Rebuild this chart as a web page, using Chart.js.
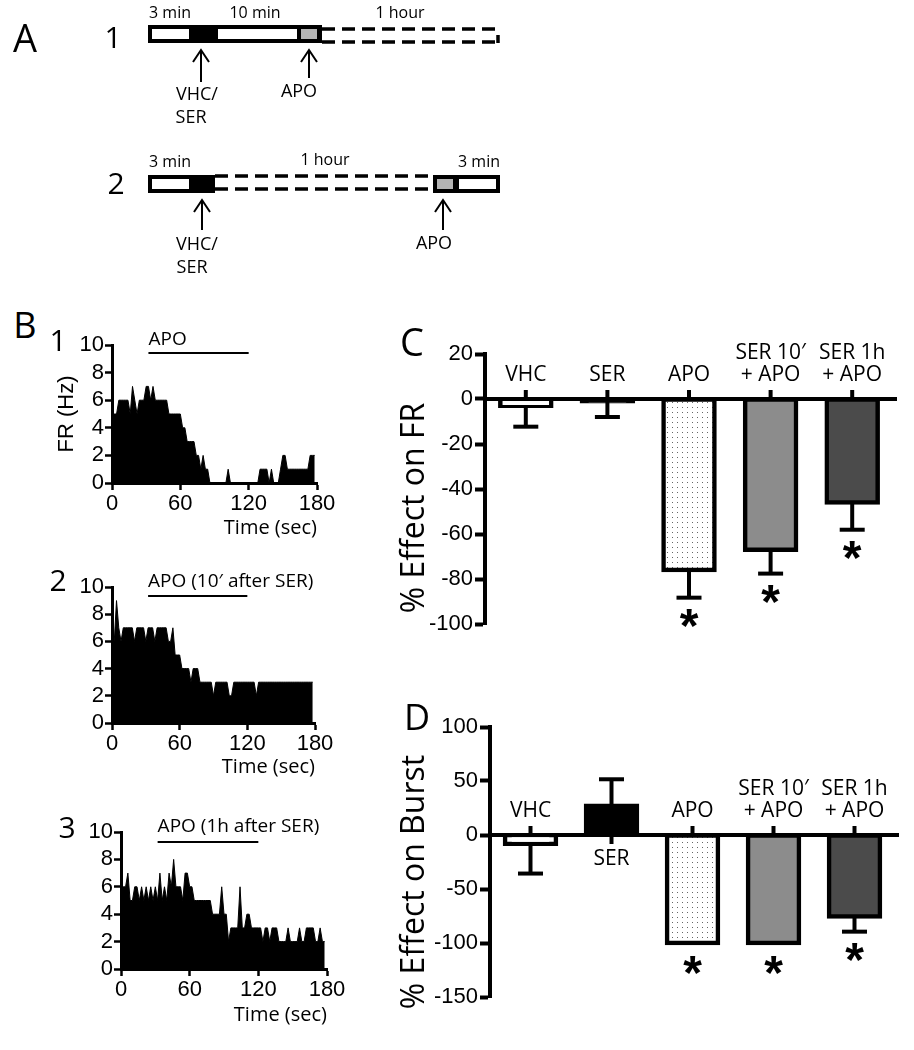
<!DOCTYPE html>
<html>
<head>
<meta charset="utf-8">
<script src="https://cdn.jsdelivr.net/npm/chart.js@4.4.1/dist/chart.umd.min.js"></script>
<style>
  html, body { margin: 0; padding: 0; background: #fff; }
  body { position: relative; width: 914px; height: 1050px; overflow: hidden; font-family: "Open Sans", sans-serif; }
  canvas { position: absolute; }
  .lbl { position: absolute; transform: translate(-50%, -50%); line-height: 1; color: #000; white-space: nowrap; }
</style>
</head>
<body>
<canvas id="panelA" width="914" height="290" style="left:0;top:0"></canvas>
<canvas id="b1" width="295" height="229" style="left:50px;top:315px"></canvas>
<canvas id="b2" width="295" height="223" style="left:50px;top:560px"></canvas>
<canvas id="b3" width="300" height="226" style="left:50px;top:805px"></canvas>
<canvas id="c" width="519" height="305" style="left:395px;top:335px"></canvas>
<canvas id="d" width="519" height="340" style="left:395px;top:690px"></canvas>

<div class="lbl" style="left:25px;top:37px;font-size:38px">A</div>
<div class="lbl" style="left:113px;top:37px;font-size:30px">1</div>
<div class="lbl" style="left:116px;top:183px;font-size:30px">2</div>
<div class="lbl" style="left:25px;top:325px;font-size:36px">B</div>
<div class="lbl" style="left:58px;top:340px;font-size:30px">1</div>
<div class="lbl" style="left:58px;top:580px;font-size:30px">2</div>
<div class="lbl" style="left:67px;top:827px;font-size:30px">3</div>
<div class="lbl" style="left:412px;top:341px;font-size:38px">C</div>
<div class="lbl" style="left:417px;top:717px;font-size:36px">D</div>

<script>
// firing-rate histograms, 2 s bins, Hz
const TIME_BIN = 2
const FR_B1 = [5,5,5,6,6,6,6,6,5,7, 6,5,6,6,6,7,7,6,7,6, 6,6,6,6,6,5,5,5,5,5,
  5,4,4,3,3,3,3,2,2,1, 2,1,1,0,0,0,0,0,0,0, 0,1,0,0,0,0,0,0,0,0,
  0,0,0,0,0,1,1,1,1,0, 1,0,0,0,1,2,2,1,1,1, 1,1,1,1,1,1,1,2,2,2]
const FR_B2 = [7,6,9,7,6,7,7,7,7,7, 6,7,7,7,7,6,7,7,7,6, 7,7,7,7,7,6,6,7,5,5,
  5,4,4,4,4,3,4,4,4,3, 3,3,3,3,3,2,3,3,3,3, 3,3,2,2,3,3,3,3,3,3,
  3,3,3,3,2,3,3,3,3,3, 3,3,3,3,3,3,3,3,3,3, 3,3,3,3,3,3,3,3,3,3]
const FR_B3 = [6,6,6,7,5,5,6,6,5,6, 5,6,5,6,5,6,5,7,5,6, 5,7,6,8,6,6,6,5,7,7,
  6,6,5,5,5,5,5,5,5,5, 4,4,4,4,6,4,4,2,3,3, 3,3,6,3,3,4,4,3,3,3,
  3,3,2,3,3,2,3,3,3,2, 2,2,2,3,2,2,2,2,3,2, 2,3,3,3,3,2,2,3,2,2]

// APO application window (sec) on each trace
const APO_WINDOW = [32, 120]

// group summary (% effect, mean and SEM)
const GROUPS = [["VHC"], ["SER"], ["APO"], ["SER 10′", "+ APO"], ["SER 1h", "+ APO"]]
const FR_MEAN = [-3, -1, -76, -67, -46]
const FR_SEM = [9.3, 7, 12.3, 10.6, 12.1]
const BURST_MEAN = [-8, 27, -100, -100, -75.5]
const BURST_SEM = [27.7, 24.6, 0, 0, 14]
const SIGNIFICANT = [false, false, true, true, true]

Chart.defaults.font.family = '"Liberation Sans", Arial, sans-serif'
Chart.defaults.color = "#000"

function line(ctx, x0, y0, x1, y1) {
  ctx.beginPath()
  ctx.moveTo(x0, y0)
  ctx.lineTo(x1, y1)
  ctx.stroke()
}

function arrow(ctx, x, tip, tail) {
  ctx.lineWidth = 2
  line(ctx, x, tip, x, tail)
  ctx.beginPath()
  ctx.moveTo(x - 8, tip + 12)
  ctx.lineTo(x, tip)
  ctx.lineTo(x + 8, tip + 12)
  ctx.stroke()
}

function text(ctx, s, x, y, font, align) {
  ctx.font = font
  ctx.textAlign = align || "center"
  ctx.textBaseline = "middle"
  ctx.fillText(s, x, y)
}

// panel A: recording protocols
const protocolA = {
  id: "protocolA",
  afterDraw(chart) {
    const { ctx, scales: { x, y } } = chart
    const X = v => x.getPixelForValue(v)
    const Y = v => y.getPixelForValue(v)
    const rect = (x0, x1, y0, y1, c) => {
      ctx.fillStyle = c
      ctx.fillRect(X(x0), Y(y0), X(x1) - X(x0), Y(y1) - Y(y0))
    }
    ctx.save()
    ctx.strokeStyle = "#000"
    ctx.fillStyle = "#000"

    // protocol 1
    rect(148, 322, 25, 43, "#000")
    rect(152, 189, 29, 39, "#fff")
    rect(218, 297, 29, 39, "#fff")
    rect(301, 317, 29, 39, "#b4b4b4")
    ctx.lineWidth = 3.5
    ctx.setLineDash([13, 7])
    line(ctx, X(322), Y(29), X(499), Y(29))
    line(ctx, X(322), Y(42), X(499), Y(42))
    ctx.setLineDash([])
    line(ctx, X(498), Y(35), X(498), Y(43))
    arrow(ctx, X(201), Y(50), Y(82))
    arrow(ctx, X(309), Y(50), Y(78))

    // protocol 2
    rect(148, 215, 175, 193, "#000")
    rect(152, 189, 179, 189, "#fff")
    rect(433, 500, 175, 193, "#000")
    rect(437, 453, 179, 189, "#b4b4b4")
    rect(459, 496, 179, 189, "#fff")
    ctx.lineWidth = 3.5
    ctx.setLineDash([13, 7])
    line(ctx, X(215), Y(176), X(433), Y(176))
    line(ctx, X(215), Y(189), X(433), Y(189))
    ctx.setLineDash([])
    arrow(ctx, X(202), Y(200), Y(230))
    arrow(ctx, X(443), Y(200), Y(230))

    ctx.fillStyle = "#000"
    const small = '16px "Open Sans"'
    const mid = '18px "Open Sans"'
    text(ctx, "3 min", X(170), Y(13), small)
    text(ctx, "10 min", X(255), Y(13), small)
    text(ctx, "1 hour", X(400), Y(13), small)
    text(ctx, "VHC/", X(197), Y(95), mid)
    text(ctx, "SER", X(191), Y(118), mid)
    text(ctx, "APO", X(299), Y(92), mid)
    text(ctx, "3 min", X(170), Y(162), small)
    text(ctx, "1 hour", X(325), Y(160), small)
    text(ctx, "3 min", X(479), Y(162), small)
    text(ctx, "VHC/", X(197), Y(245), mid)
    text(ctx, "SER", X(192), Y(268), mid)
    text(ctx, "APO", X(434), Y(244), mid)
    ctx.restore()
  },
}

new Chart(document.getElementById("panelA"), {
  type: "scatter",
  data: { datasets: [] },
  options: {
    responsive: false,
    animation: false,
    devicePixelRatio: 1,
    layout: { padding: 0 },
    plugins: { legend: { display: false }, tooltip: { enabled: false } },
    scales: {
      x: { min: 0, max: 914, display: false },
      y: { min: 0, max: 290, reverse: true, display: false },
    },
  },
  plugins: [protocolA],
})

// APO bar drawn over each firing-rate trace
const apoBar = {
  id: "apoBar",
  afterDraw(chart, args, o) {
    const { ctx, chartArea: a, scales: { x } } = chart
    const x0 = x.getPixelForValue(o.from)
    const x1 = x.getPixelForValue(o.to)
    ctx.save()
    ctx.strokeStyle = "#000"
    ctx.fillStyle = "#000"
    ctx.lineWidth = 2
    line(ctx, x0, a.top + o.drop, x1, a.top + o.drop)
    text(ctx, o.label, x0, a.top - 5, '19px "Open Sans"', "left")
    ctx.restore()
  },
}

const axisGrid = {
  display: true,
  drawOnChartArea: false,
  drawTicks: true,
  tickLength: 7,
  tickWidth: 2.5,
  color: "#000",
}
const axisBorder = { display: true, width: 3, color: "#000" }

function histogram(id, values, label, box) {
  return new Chart(document.getElementById(id), {
    type: "line",
    data: {
      datasets: [
        {
          data: values.map((v, i) => ({ x: i * TIME_BIN, y: v })),
          fill: "origin",
          backgroundColor: "#000",
          borderColor: "#000",
          borderWidth: 1,
          pointRadius: 0,
          tension: 0,
        },
      ],
    },
    options: {
      responsive: false,
      animation: false,
      devicePixelRatio: 1,
      layout: { padding: { top: box.top, right: box.right, left: 0, bottom: 0 } },
      plugins: {
        legend: { display: false },
        tooltip: { enabled: false },
        apoBar: { label: label, from: APO_WINDOW[0], to: APO_WINDOW[1], drop: box.drop },
      },
      scales: {
        x: {
          type: "linear",
          min: 0,
          max: 180,
          ticks: { stepSize: 60, font: { size: 22 }, padding: 1, maxRotation: 0, autoSkip: false },
          grid: axisGrid,
          border: axisBorder,
          title: {
            display: true,
            text: "Time (sec)",
            align: "end",
            font: { family: '"Open Sans"', size: 20 },
          },
          afterFit: s => { s.height = box.xh },
        },
        y: {
          min: 0,
          max: 10,
          ticks: { stepSize: 2, font: { size: 22 }, padding: 1, autoSkip: false },
          grid: axisGrid,
          border: axisBorder,
          title: { display: !!box.ytitle, text: box.ytitle || "", font: { size: 22 } },
          afterFit: s => { s.width = box.yw },
        },
      },
    },
    plugins: [apoBar],
  })
}

histogram("b1", FR_B1, "APO", { top: 30, right: 28, xh: 61, yw: 62, drop: 8, ytitle: "FR (Hz)" })
histogram("b2", FR_B2, "APO (10′ after SER)", { top: 27, right: 30, xh: 60, yw: 62, drop: 9 })
histogram("b3", FR_B3, "APO (1h after SER)", { top: 27, right: 23, xh: 62, yw: 71, drop: 10 })

// error bars, group labels, asterisks and axis title for the bar panels
const effectDecor = {
  id: "effectDecor",
  afterDatasetsDraw(chart, args, o) {
    const { ctx, chartArea: a, scales: { x, y } } = chart
    const y0 = y.getPixelForValue(0)
    ctx.save()
    ctx.strokeStyle = "#000"
    ctx.fillStyle = "#000"
    ctx.lineWidth = 4
    line(ctx, a.left, y0, a.right + 4, y0)
    o.means.forEach((m, i) => {
      const cx = x.getPixelForValue(i)
      const dir = m < 0 ? -1 : 1
      const end = y.getPixelForValue(m + dir * o.sems[i])
      ctx.lineWidth = 4
      if (o.sems[i] > 0) {
        line(ctx, cx, y.getPixelForValue(m), cx, end)
        line(ctx, cx - 12.5, end, cx + 12.5, end)
      }
      // short stub on the other side of the zero line
      line(ctx, cx, y0, cx, y0 + dir * 9)
      const lines = GROUPS[i]
      lines.forEach((s, k) => {
        const ly = m > 0 ? y0 + 24 + k * 22 : y0 - 24 - (lines.length - 1 - k) * 22
        text(ctx, s, cx, ly, '21px "Open Sans"')
      })
      if (SIGNIFICANT[i]) {
        const low = Math.max(end, y.getPixelForValue(m) + 2)
        ctx.font = 'bold 48px "Liberation Sans"'
        ctx.textAlign = "center"
        ctx.textBaseline = "alphabetic"
        ctx.fillText("*", cx, low + 17 + 27)
      }
    })
    ctx.translate(o.titleX, o.titleY)
    ctx.rotate(-Math.PI / 2)
    text(ctx, o.title, 0, 0, '32px "Open Sans"')
    ctx.restore()
  },
}

function dotPattern() {
  const c = document.createElement("canvas")
  c.width = 5
  c.height = 5
  const g = c.getContext("2d")
  g.fillStyle = "#fff"
  g.fillRect(0, 0, 5, 5)
  g.fillStyle = "#666"
  g.fillRect(2, 2, 1, 1)
  return g.createPattern(c, "repeat")
}

function effectChart(id, means, sems, range, box, title) {
  return new Chart(document.getElementById(id), {
    type: "bar",
    data: {
      labels: GROUPS.map(g => g.join(" ")),
      datasets: [
        {
          data: means,
          backgroundColor: ["#fff", "#000", dotPattern(), "#8c8c8c", "#4b4b4b"],
          borderColor: "#000",
          borderWidth: 4.5,
          borderSkipped: false,
          inflateAmount: 2.25,
          barThickness: 51,
        },
      ],
    },
    options: {
      responsive: false,
      animation: false,
      devicePixelRatio: 1,
      layout: { padding: { top: box.top, right: box.right, bottom: box.bottom, left: 0 } },
      plugins: {
        legend: { display: false },
        tooltip: { enabled: false },
        effectDecor: { means, sems, title, titleX: box.titleX, titleY: box.titleY },
      },
      scales: {
        x: { display: false },
        y: {
          min: range[0],
          max: range[1],
          ticks: { stepSize: range[2], font: { size: 22 }, padding: 2, autoSkip: false },
          grid: { display: true, drawOnChartArea: false, drawTicks: true, tickLength: 10, tickWidth: 4, color: "#000" },
          border: { display: true, width: 4, color: "#000" },
          afterFit: s => { s.width = box.yw },
        },
      },
    },
    plugins: [effectDecor],
  })
}

effectChart("c", FR_MEAN, FR_SEM, [-100, 20, 20],
  { top: 19, right: 21, bottom: 16, yw: 90, titleX: 20, titleY: 173 }, "% Effect on FR")
effectChart("d", BURST_MEAN, BURST_SEM, [-150, 100, 50],
  { top: 37, right: 19, bottom: 33, yw: 95, titleX: 20, titleY: 192 }, "% Effect on Burst")
</script>
</body>
</html>
